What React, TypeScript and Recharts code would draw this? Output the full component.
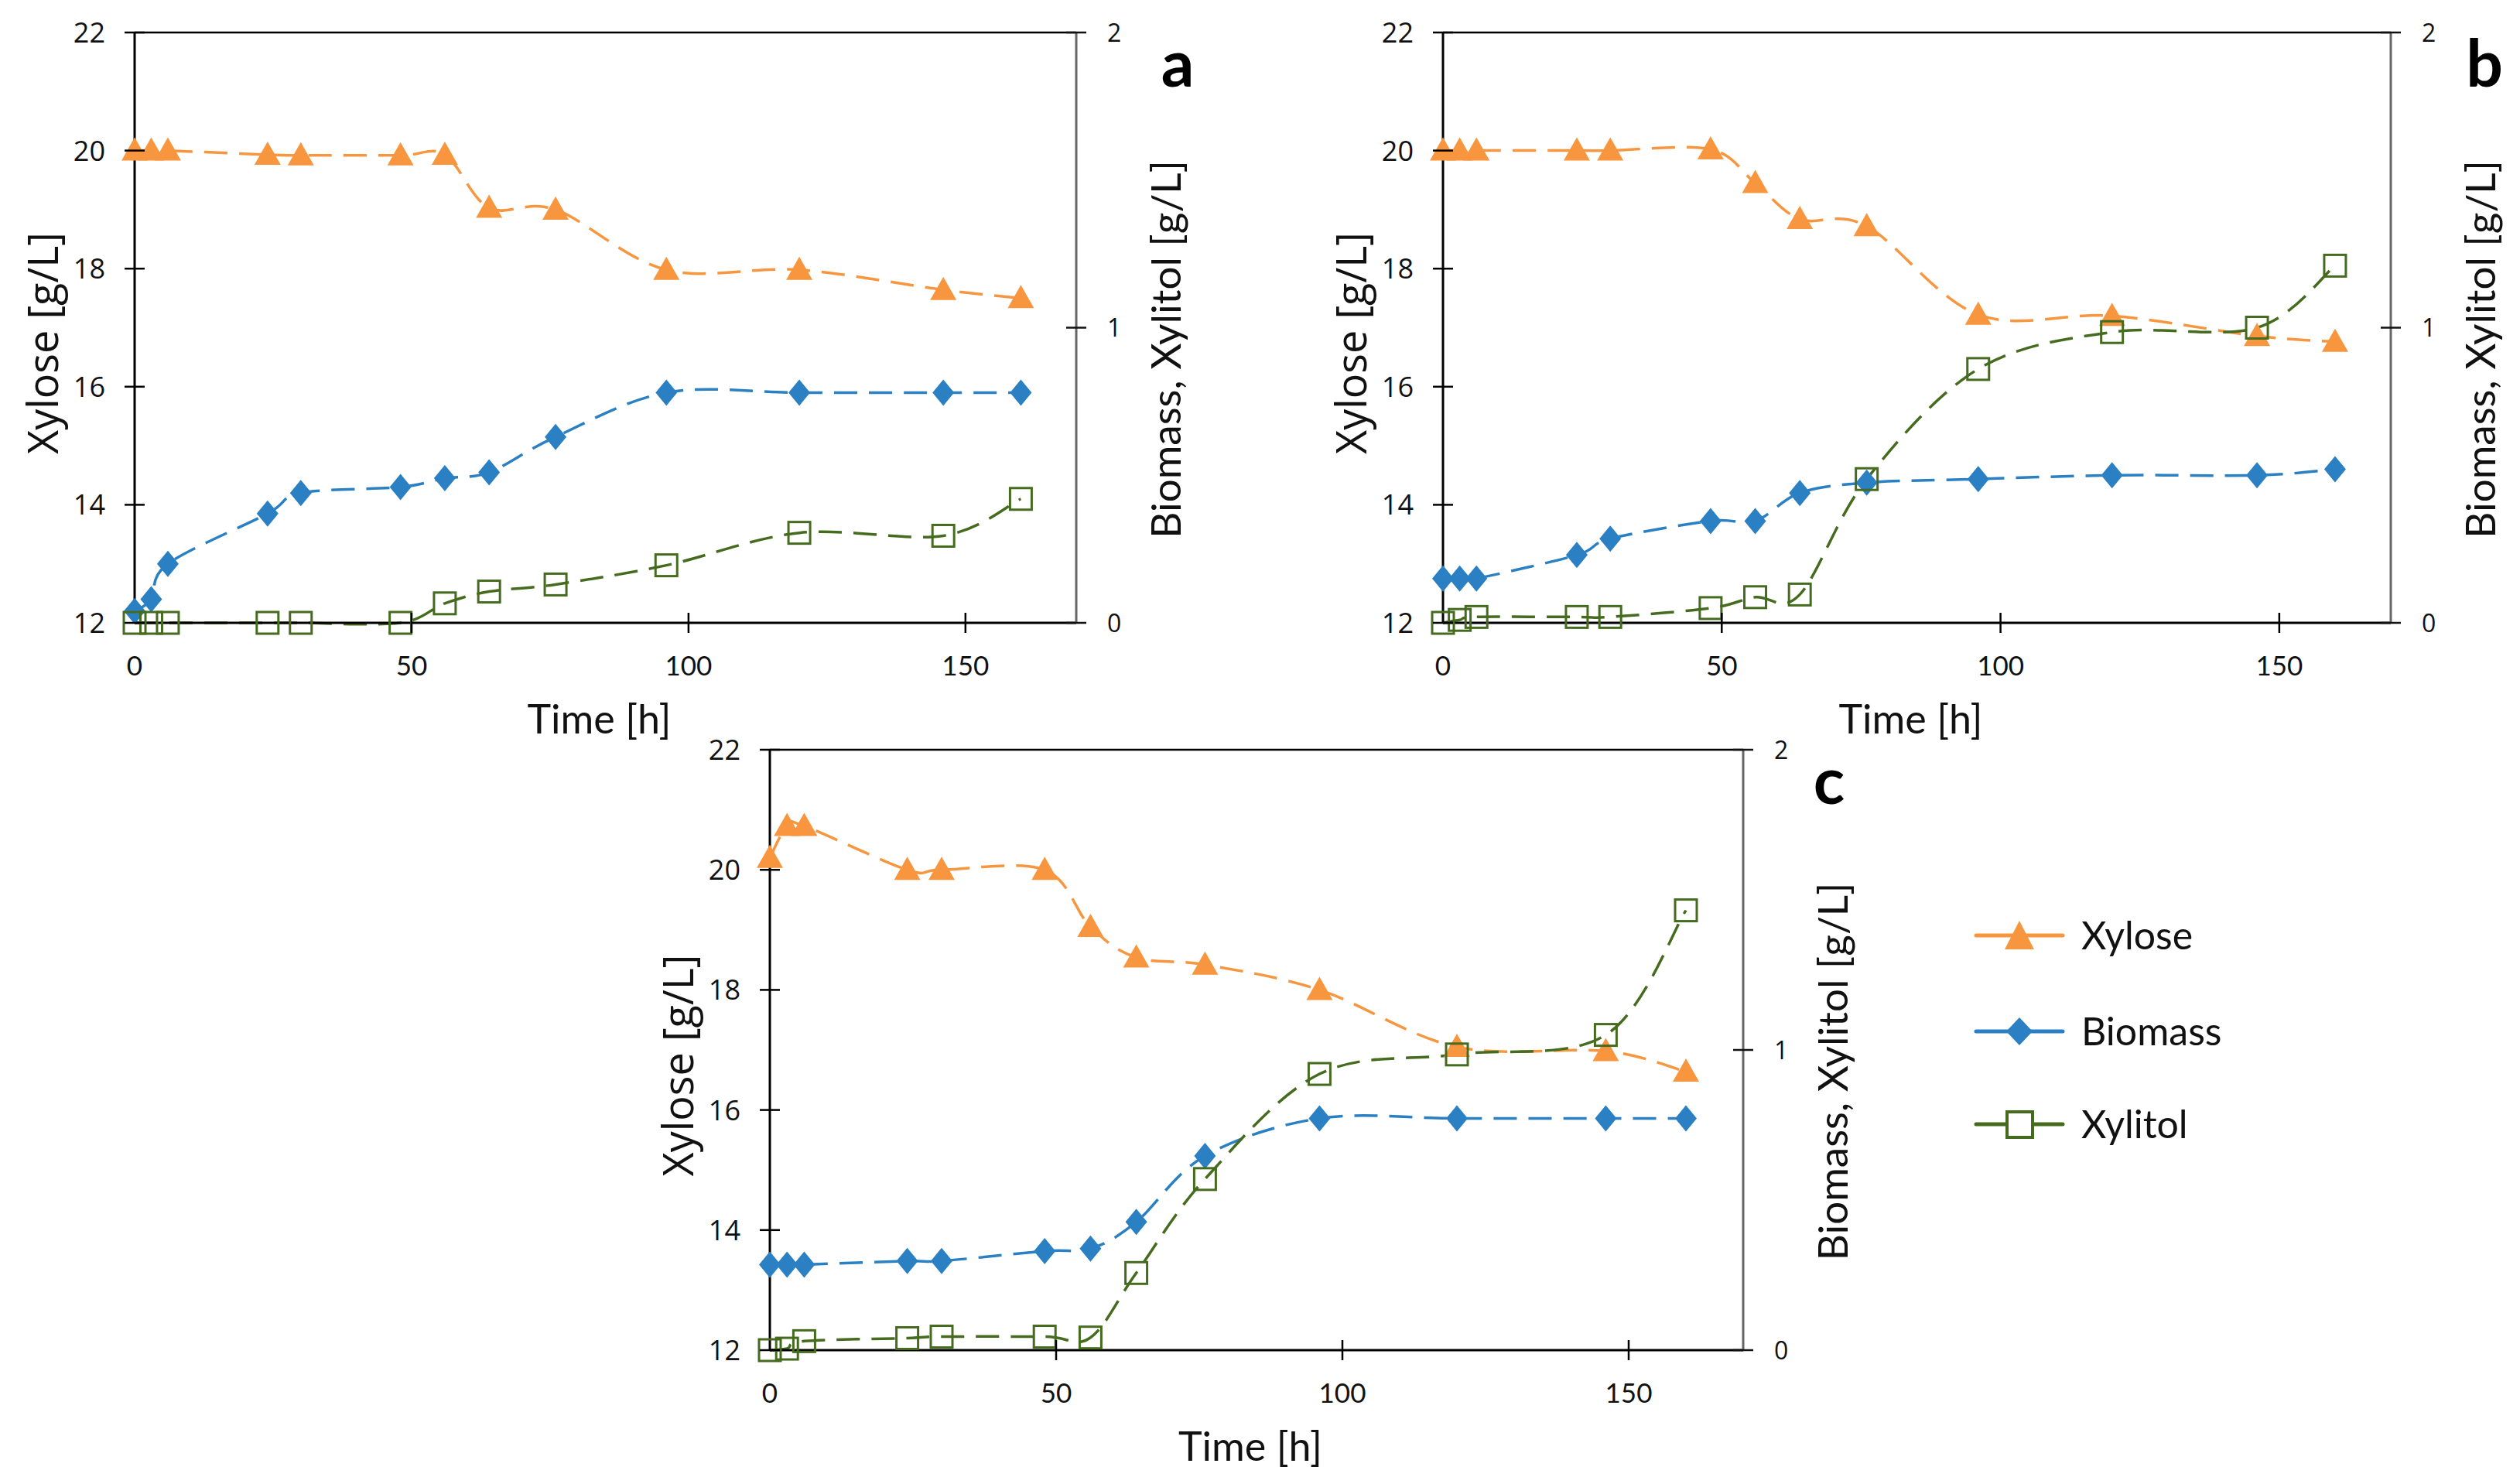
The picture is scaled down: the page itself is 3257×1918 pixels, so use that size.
import { ComposedChart, Legend, Line, ReferenceLine, XAxis, YAxis } from "recharts";

// sampling times [h], shared by all three runs
const time = [0, 3, 6, 24, 30, 48, 56, 64, 76, 96, 120, 146, 160];

// run a
const xyloseA = [20.0, 20.0, 20.0, 19.93, 19.92, 19.92, 19.93, 19.03, 19.0, 17.98, 17.98, 17.64, 17.5];
const biomassA = [0.04, 0.08, 0.2, 0.37, 0.44, 0.46, 0.49, 0.51, 0.63, 0.78, 0.78, 0.78, 0.78];
const xylitolA = [0, 0, 0, 0, 0, 0, 0.066, 0.106, 0.13, 0.195, 0.305, 0.295, 0.42];

// run b
const xyloseB = [20.0, 20.0, 20.0, 20.0, 20.0, 20.02, 19.45, 18.84, 18.72, 17.22, 17.2, 16.86, 16.76];
const biomassB = [0.15, 0.15, 0.15, 0.23, 0.285, 0.345, 0.345, 0.44, 0.475, 0.487, 0.5, 0.5, 0.52];
const xylitolB = [0, 0.01, 0.02, 0.02, 0.02, 0.05, 0.087, 0.096, 0.487, 0.86, 0.985, 1.0, 1.21];

// run c
const xyloseC = [20.2, 20.73, 20.73, 20.0, 20.0, 20.0, 19.05, 18.54, 18.42, 18.0, 17.05, 16.98, 16.64];
const biomassC = [0.285, 0.285, 0.285, 0.297, 0.297, 0.33, 0.338, 0.427, 0.647, 0.772, 0.772, 0.772, 0.772];
const xylitolC = [0, 0.005, 0.03, 0.04, 0.045, 0.045, 0.042, 0.257, 0.57, 0.92, 0.985, 1.05, 1.465];

const timeTicks = [0, 50, 100, 150];
const xyloseTicks = [12, 14, 16, 18, 20, 22];
const rightTicks = [0, 1, 2];

const ORANGE = "#F7963E";
const BLUE = "#2A80C2";
const GREEN = "#456B1E";

const SEGOE = "'Open Sans', 'Noto Sans', sans-serif";
const CALIBRI = "Lato, 'Open Sans', sans-serif";

const LEFT_W = 174;
const RIGHT_W = 260;
const TOP = 42;
const BOTTOM_H = 160;

const toRows = (x: number[], b: number[], c: number[]) =>
  time.map((t, i) => ({ t, xylose: x[i], biomass: b[i], xylitol: c[i] }));

// Excel-like smoothed line (Catmull-Rom through the points)
const excelCurve = (context: any) => {
  let pts: [number, number][] = [];
  return {
    areaStart() {},
    areaEnd() {},
    lineStart() {
      pts = [];
    },
    point(x: number, y: number) {
      pts.push([+x, +y]);
    },
    lineEnd() {
      if (!pts.length) return;
      context.moveTo(pts[0][0], pts[0][1]);
      for (let i = 0; i < pts.length - 1; i++) {
        const p0 = pts[i - 1] || pts[i];
        const p1 = pts[i];
        const p2 = pts[i + 1];
        const p3 = pts[i + 2] || p2;
        context.bezierCurveTo(
          p1[0] + (p2[0] - p0[0]) / 6,
          p1[1] + (p2[1] - p0[1]) / 6,
          p2[0] - (p3[0] - p1[0]) / 6,
          p2[1] - (p3[1] - p1[1]) / 6,
          p2[0],
          p2[1]
        );
      }
    },
  };
};

const TriangleDot = ({ cx, cy, index }: any) => (
  <polygon
    key={`tri-${index}`}
    points={`${cx},${cy - 17} ${cx - 17},${cy + 13} ${cx + 17},${cy + 13}`}
    fill={ORANGE}
  />
);

const DiamondDot = ({ cx, cy, index }: any) => (
  <polygon
    key={`dia-${index}`}
    points={`${cx},${cy - 17} ${cx + 14},${cy} ${cx},${cy + 17} ${cx - 14},${cy}`}
    fill={BLUE}
  />
);

const SquareDot = ({ cx, cy, index }: any) => (
  <rect
    key={`sq-${index}`}
    x={cx - 14}
    y={cy - 14}
    width={28}
    height={28}
    fill="none"
    stroke={GREEN}
    strokeWidth={3}
  />
);

const LeftTick = ({ x, y, payload }: any) => (
  <g>
    <line x1={x - 13} x2={x + 13} y1={y} y2={y} stroke="#000" strokeWidth={2.5} />
    <text x={x - 38} y={y} dy="0.36em" textAnchor="end" fontFamily={SEGOE} fontSize={36} fill="#111">
      {payload.value}
    </text>
  </g>
);

const RightTick = ({ x, y, payload }: any) => (
  <g>
    <line x1={x - 13} x2={x + 13} y1={y} y2={y} stroke="#111" strokeWidth={2.5} />
    <text x={x + 40} y={y} dy="0.36em" textAnchor="start" fontFamily={SEGOE} fontSize={32} fill="#111">
      {payload.value}
    </text>
  </g>
);

const BottomTick = ({ x, y, payload }: any) => (
  <g>
    {payload.value !== 0 && (
      <line x1={x} x2={x} y1={y - 13} y2={y + 13} stroke="#000" strokeWidth={2.5} />
    )}
    <text x={x} y={y + 68} textAnchor="middle" fontFamily={CALIBRI} fontSize={35} fill="#111">
      {payload.value}
    </text>
  </g>
);

const LegendContent = () => {
  const rows = [
    { name: "Xylose", color: ORANGE, y: 40 },
    { name: "Biomass", color: BLUE, y: 164 },
    { name: "Xylitol", color: GREEN, y: 284 },
  ];
  return (
    <svg width={420} height={330}>
      {rows.map((r) => (
        <g key={r.name}>
          <line x1={6} x2={118} y1={r.y} y2={r.y} stroke={r.color} strokeWidth={5} strokeLinecap="round" />
          {r.name === "Xylose" && (
            <polygon points={`62,${r.y - 19} 43,${r.y + 18} 81,${r.y + 18}`} fill={ORANGE} />
          )}
          {r.name === "Biomass" && (
            <polygon
              points={`62,${r.y - 18} 79,${r.y} 62,${r.y + 18} 45,${r.y}`}
              fill={BLUE}
            />
          )}
          {r.name === "Xylitol" && (
            <rect x={46} y={r.y - 16} width={33} height={33} fill="#fff" stroke={GREEN} strokeWidth={4} />
          )}
          <text x={142} y={r.y} dy="0.36em" fontFamily={CALIBRI} fontSize={50} fill="#111">
            {r.name}
          </text>
        </g>
      ))}
    </svg>
  );
};

interface PanelProps {
  left: number;
  top: number;
  plotW: number;
  plotH: number;
  letter: string;
  letterDx: number;
  rows: { t: number; xylose: number; biomass: number; xylitol: number }[];
  withLegend?: boolean;
}

const Panel = ({ left, top, plotW, plotH, letter, letterDx, rows, withLegend }: PanelProps) => {
  const extra = withLegend ? 320 : 0;
  const width = LEFT_W + plotW + RIGHT_W + extra;
  const height = TOP + plotH + BOTTOM_H;
  const plotRight = LEFT_W + plotW;
  const plotBottom = TOP + plotH;
  const midY = TOP + plotH / 2;

  return (
    <div style={{ position: "absolute", left, top, width, height }}>
      <ComposedChart
        width={width}
        height={height}
        data={rows}
        margin={{ top: TOP, right: extra, bottom: 0, left: 0 }}
      >
        <XAxis
          dataKey="t"
          type="number"
          domain={[0, 170]}
          ticks={timeTicks}
          height={BOTTOM_H}
          tickSize={0}
          tickMargin={0}
          tickLine={false}
          tick={<BottomTick />}
          axisLine={{ stroke: "#000", strokeWidth: 3 }}
          label={{
            content: () => (
              <text
                x={LEFT_W + plotW / 2 - 8}
                y={plotBottom + 124}
                dy="0.36em"
                textAnchor="middle"
                fontFamily={CALIBRI}
                fontSize={52}
                fill="#111"
              >
                Time [h]
              </text>
            ),
          }}
        />
        <YAxis
          yAxisId="left"
          type="number"
          domain={[12, 22]}
          ticks={xyloseTicks}
          width={LEFT_W}
          tickSize={0}
          tickMargin={0}
          tickLine={false}
          tick={<LeftTick />}
          axisLine={{ stroke: "#000", strokeWidth: 3 }}
          label={{
            content: () => (
              <text
                x={LEFT_W - 118}
                y={midY + 20}
                dy="0.36em"
                textAnchor="middle"
                transform={`rotate(-90, ${LEFT_W - 118}, ${midY + 20})`}
                fontFamily={SEGOE}
                fontSize={54}
                fill="#111"
              >
                Xylose [g/L]
              </text>
            ),
          }}
        />
        <YAxis
          yAxisId="right"
          orientation="right"
          type="number"
          domain={[0, 2]}
          ticks={rightTicks}
          width={RIGHT_W}
          tickSize={0}
          tickMargin={0}
          tickLine={false}
          tick={<RightTick />}
          axisLine={{ stroke: "#666", strokeWidth: 3 }}
          label={{
            content: () => (
              <g>
                <text
                  x={plotRight + 116}
                  y={midY + 28}
                  dy="0.36em"
                  textAnchor="middle"
                  transform={`rotate(-90, ${plotRight + 116}, ${midY + 28})`}
                  fontFamily={CALIBRI}
                  fontSize={53}
                  fill="#111"
                >
                  Biomass, Xylitol [g/L]
                </text>
                <text
                  x={plotRight + letterDx}
                  y={TOP + 40}
                  dy="0.36em"
                  textAnchor="middle"
                  fontFamily={CALIBRI}
                  fontWeight="bold"
                  fontSize={84}
                  fill="#000"
                >
                  {letter}
                </text>
              </g>
            ),
          }}
        />
        <ReferenceLine yAxisId="left" y={22} stroke="#000" strokeWidth={2.5} />
        {withLegend && (
          <Legend
            layout="horizontal"
            verticalAlign="middle"
            align="center"
            content={<LegendContent />}
            wrapperStyle={{ left: LEFT_W + plotW + RIGHT_W + 35, top: 242, width: 420 }}
          />
        )}
        <Line
          yAxisId="left"
          dataKey="xylose"
          name="Xylose"
          type={excelCurve as any}
          stroke={ORANGE}
          strokeWidth={3.5}
          strokeDasharray="30 15"
          dot={(p: any) => <TriangleDot {...p} />}
          activeDot={false}
          isAnimationActive={false}
        />
        <Line
          yAxisId="right"
          dataKey="biomass"
          name="Biomass"
          type={excelCurve as any}
          stroke={BLUE}
          strokeWidth={3.5}
          strokeDasharray="30 15"
          dot={(p: any) => <DiamondDot {...p} />}
          activeDot={false}
          isAnimationActive={false}
        />
        <Line
          yAxisId="right"
          dataKey="xylitol"
          name="Xylitol"
          type={excelCurve as any}
          stroke={GREEN}
          strokeWidth={3.5}
          strokeDasharray="30 15"
          dot={(p: any) => <SquareDot {...p} />}
          activeDot={false}
          isAnimationActive={false}
        />
      </ComposedChart>
    </div>
  );
}

export default function App() {
  return (
    <div
      style={{
        position: "absolute",
        left: 0,
        top: 0,
        width: 3257,
        height: 1918,
        background: "#fff",
        overflow: "hidden",
      }}
    >
      <Panel left={0} top={0} plotW={1217} plotH={763} letter="a" letterDx={131} rows={toRows(xyloseA, biomassA, xylitolA)} />
      <Panel left={1691} top={0} plotW={1225} plotH={763} letter="b" letterDx={121} rows={toRows(xyloseB, biomassB, xylitolB)} />
      <Panel
        left={821}
        top={927}
        plotW={1258}
        plotH={776}
        letter="c"
        letterDx={111}
        rows={toRows(xyloseC, biomassC, xylitolC)}
        withLegend
      />
    </div>
  );
}
